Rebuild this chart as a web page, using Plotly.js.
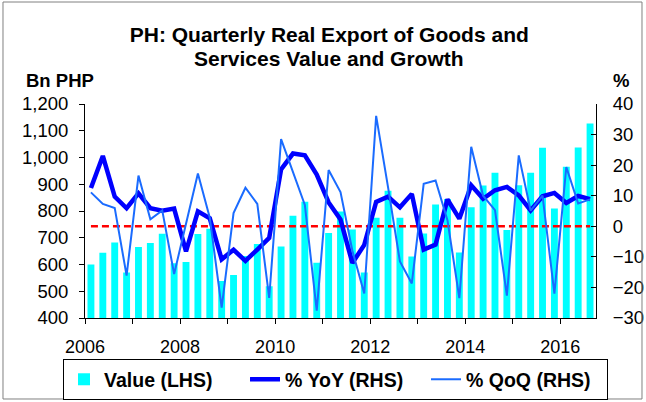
<!DOCTYPE html>
<html><head><meta charset="utf-8">
<script src="https://cdn.plot.ly/plotly-3.0.1.min.js"></script>
<style>html,body{margin:0;padding:0;background:#fff}#chart{width:646px;height:402px}</style>
</head><body><div id="chart"></div>
<script>
// Quarterly categories (2006Q1 .. 2016Q3)
const years = [2006,2006,2006,2006,2007,2007,2007,2007,2008,2008,2008,2008,2009,2009,2009,2009,2010,2010,2010,2010,2011,2011,2011,2011,2012,2012,2012,2012,2013,2013,2013,2013,2014,2014,2014,2014,2015,2015,2015,2015,2016,2016,2016];
const qtrs  = [1,2,3,4,1,2,3,4,1,2,3,4,1,2,3,4,1,2,3,4,1,2,3,4,1,2,3,4,1,2,3,4,1,2,3,4,1,2,3,4,1,2,3];
// Value, Bn PHP (LHS)
const valueLHS = [600,644,682,570,665,680,715,605,609,714,734,538,561,632,677,519,667,782,835,607,718,798,731,570,775,876,775,630,716,824,845,645,814,895,943,729,896,943,1036,809,965,1037,1127];
// % YoY (RHS)
const yoyRHS = [12.5,23,9.7,5.9,10.8,5.9,5.1,5.8,-8.2,4.9,2.6,-10.8,-7.7,-11.3,-7.6,-3.8,18.6,23.8,23.2,16.9,7.8,2.2,-12,-6.1,8.0,9.7,6.2,10.6,-7.6,-6.0,8.8,2.5,13.4,9.0,11.8,12.9,10.1,5.2,9.8,10.9,7.6,9.9,8.9];
// % QoQ (RHS)
const qoqRHS = [11.1,7.3,6.0,-16.1,16.6,2.3,5.2,-15.6,0.8,17.3,2.8,-26.6,4.3,12.6,7.3,-23.4,28.5,17.4,7.0,-27.6,18.4,11.2,-8.0,-22.0,36.1,12.8,-11.5,-18.7,13.9,15.0,2.0,-23.5,26.0,10.0,5.3,-22.7,23.2,5.1,10.0,-22.0,19.4,7.5,8.8];
// x-axis ticks
const tickYears = [2006,2007,2008,2009,2010,2011,2012,2013,2014,2015,2016];
const tickLabels = ['2006','','2008','','2010','','2012','','2014','','2016'];

// position each quarter in the middle of its slot on a continuous year axis
const xPos = years.map((y,i) => y + (qtrs[i]-0.5)/4);

const FONT = 'Liberation Sans, Arial, sans-serif';
const traces = [
  {type:'bar', name:'Value (LHS)', x:xPos, y:valueLHS, marker:{color:'#00FFFF'}, yaxis:'y', hoverinfo:'skip'},
  {type:'scatter', mode:'lines', name:'zero', showlegend:false, x:[xPos[0], xPos[xPos.length-1]], y:[0,0], yaxis:'y2',
   line:{color:'#FF0000', width:2.5, dash:'7px,4px'}},
  {type:'scatter', mode:'lines', name:'% YoY (RHS)', x:xPos, y:yoyRHS, yaxis:'y2', line:{color:'#0000FF', width:4.5}},
  {type:'scatter', mode:'lines', name:'% QoQ (RHS)', x:xPos, y:qoqRHS, yaxis:'y2', line:{color:'#1A6BFF', width:2}}
];
const layout = {
  width:646, height:402,
  margin:{l:85, r:50, t:104, b:84, autoexpand:false},
  paper_bgcolor:'#fff', plot_bgcolor:'#fff',
  font:{family:FONT, color:'#000', size:18},
  bargap:0.42,
  title:{text:'<b>PH: Quarterly Real Export of Goods and</b>', font:{family:FONT, size:21, color:'#000'},
         x:0.478, xref:'paper', xanchor:'center', y:(402-35)/402, yref:'container', yanchor:'middle'},
  xaxis:{range:[2006, 2016.75], tickvals:tickYears, ticktext:tickLabels, ticks:'outside', ticklen:5, tickcolor:'#000',
         ticklabelstandoff:7, showline:true, linecolor:'#000', linewidth:1, showgrid:false, zeroline:false, tickfont:{size:18}},
  yaxis:{range:[400,1200], dtick:100, tickformat:',d', ticks:'outside', ticklen:5, tickcolor:'#000',
         ticklabelstandoff:7, showline:true, linecolor:'#000', linewidth:1, showgrid:false, zeroline:false, tickfont:{size:18.5}},
  yaxis2:{range:[-30,40], dtick:10, overlaying:'y', side:'right', ticks:'inside', ticklen:5, tickcolor:'#000',
          ticklabelstandoff:12, showline:true, linecolor:'#000', linewidth:1, showgrid:false, zeroline:false, tickfont:{size:18.5}},
  showlegend:true,
  legend:{orientation:'h', x:-0.043, y:-0.192, xanchor:'left', yanchor:'top', bordercolor:'#000', borderwidth:1,
          entrywidth:136, itemgap:0,
          font:{family:FONT, size:19.5, color:'#000', weight:'bold'}, bgcolor:'#fff'},
  annotations:[
    {text:'<b>Services Value and Growth</b>', xref:'paper', yref:'paper', x:0.478, y:(318-59)/214, xanchor:'center', yanchor:'middle', showarrow:false, font:{size:21}},
    {text:'<b>Bn PHP</b>', xref:'paper', yref:'paper', x:-0.12, y:(318-80)/214, xanchor:'left', yanchor:'middle', showarrow:false, font:{size:18.5}},
    {text:'<b>%</b>', xref:'paper', yref:'paper', x:1.03, y:(318-80)/214, xanchor:'left', yanchor:'middle', showarrow:false, font:{size:18.5}}
  ],
  shapes:[
    {type:'rect', xref:'paper', yref:'paper', x0:-0.1605, x1:1.09, y0:-0.3785, y1:1.4766, line:{color:'#808080', width:1}}
  ]
};
Plotly.newPlot('chart', traces, layout, {displayModeBar:false, staticPlot:true});
</script></body></html>
